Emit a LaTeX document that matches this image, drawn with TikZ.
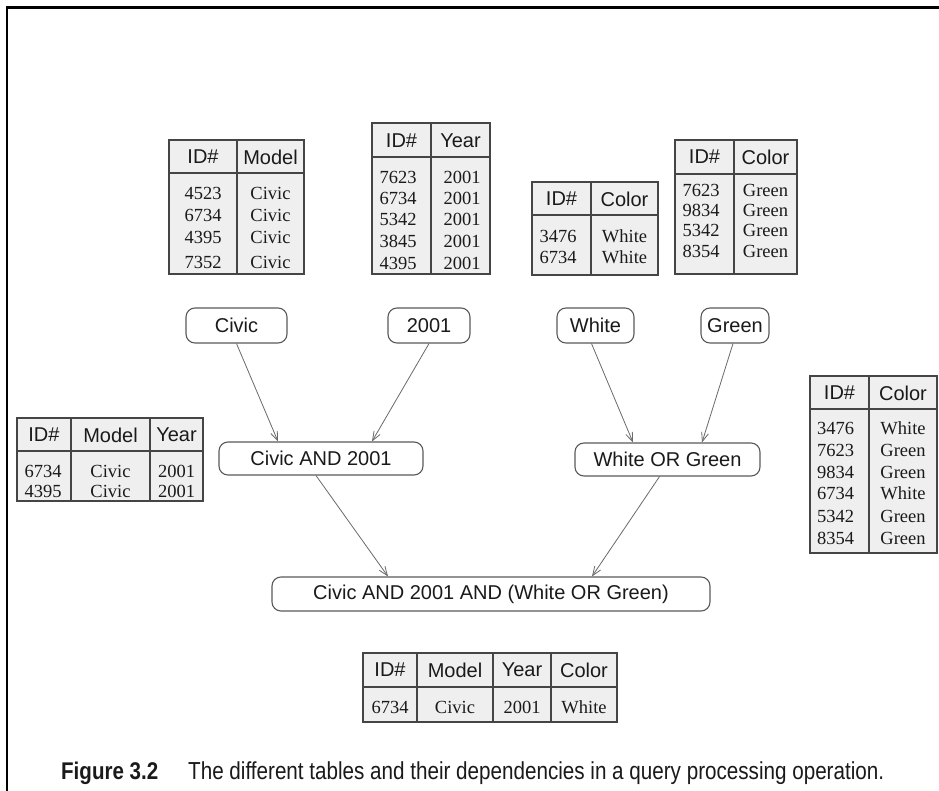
\documentclass[tikz,border=0pt]{standalone}
\usepackage{fontspec}
\setmainfont{Liberation Serif}
\setsansfont{Liberation Sans}
\usetikzlibrary{arrows.meta}
\definecolor{tabgray}{HTML}{EFEFEF}
\definecolor{tabline}{HTML}{454545}
\definecolor{boxline}{HTML}{5A5A5A}
\definecolor{arrcol}{HTML}{6A6A6A}
\definecolor{txt}{HTML}{1A1A1A}
\begin{document}
\begin{tikzpicture}[x=1pt,y=-1pt,
  tabframe/.style={draw=tabline, line width=1.5pt},
  hdrule/.style={draw=tabline, line width=2pt},
  hd/.style={font=\sffamily\fontsize{20}{20}\selectfont, inner sep=0pt, text=txt},
  dt/.style={font=\fontsize{18.5}{18.5}\selectfont, inner sep=0pt, text=txt},
  rbox/.style={draw=boxline, line width=1.1pt, rounded corners=9pt, fill=white,
    font=\sffamily\fontsize{20}{20}\selectfont, inner sep=0pt, text=txt},
  arr/.style={draw=arrcol, line width=0.8pt, -{Straight Barb[length=9pt,width=7pt]}}]
\useasboundingbox (0,0) rectangle (939,791);
\fill[white] (0,0) rectangle (939,791);
% frame
\draw[line width=2.2pt] (7,791) -- (7,7.5) -- (939,7.5);

% ---------- Table 1: ID# / Model
\fill[tabgray] (169,140) rectangle (304,274);
\draw[tabframe] (169,140) rectangle (304,274) (237,140) -- (237,274);
\draw[hdrule] (169,173) -- (304,173);
\node[hd] (t1h1) at (203,157) {ID\#};
\node[hd] (t1h2) at (270.5,157) {Model};
\foreach \i/\id/\v/\y in {1/4523/Civic/193, 2/6734/Civic/215, 3/4395/Civic/237, 4/7352/Civic/262}
  {\node[dt] (t1r\i a) at (203,\y) {\id}; \node[dt] (t1r\i b) at (270.5,\y) {\v};}

% ---------- Table 2: ID# / Year
\fill[tabgray] (372,123) rectangle (490,274);
\draw[tabframe] (372,123) rectangle (490,274) (431,123) -- (431,274);
\draw[hdrule] (372,157) -- (490,157);
\node[hd] (t2h1) at (401.5,141) {ID\#};
\node[hd] (t2h2) at (460.5,141) {Year};
\foreach \i/\id/\v/\y in {1/7623/2001/177, 2/6734/2001/198, 3/5342/2001/219, 4/3845/2001/241, 5/4395/2001/263}
  {\node[dt] (t2r\i a) at (398,\y) {\id}; \node[dt] (t2r\i b) at (462,\y) {\v};}

% ---------- Table 3: ID# / Color (White)
\fill[tabgray] (532,182) rectangle (658,275);
\draw[tabframe] (532,182) rectangle (658,275) (591,182) -- (591,275);
\draw[hdrule] (532,215) -- (658,215);
\node[hd] (t3h1) at (561.5,199) {ID\#};
\node[hd] (t3h2) at (624.5,199) {Color};
\foreach \i/\id/\v/\y in {1/3476/White/236, 2/6734/White/257}
  {\node[dt] (t3r\i a) at (558,\y) {\id}; \node[dt] (t3r\i b) at (624.5,\y) {\v};}

% ---------- Table 4: ID# / Color (Green)
\fill[tabgray] (675,140) rectangle (797,274);
\draw[tabframe] (675,140) rectangle (797,274) (734,140) -- (734,274);
\draw[hdrule] (675,174) -- (797,174);
\node[hd] (t4h1) at (704.5,157) {ID\#};
\node[hd] (t4h2) at (765.5,157) {Color};
\foreach \i/\id/\v/\y in {1/7623/Green/190, 2/9834/Green/210, 3/5342/Green/230, 4/8354/Green/251}
  {\node[dt] (t4r\i a) at (701,\y) {\id}; \node[dt] (t4r\i b) at (765.5,\y) {\v};}

% ---------- Table 5: ID# / Model / Year
\fill[tabgray] (17,418) rectangle (203,501);
\draw[tabframe] (17,418) rectangle (203,501) (71,418) -- (71,501) (150,418) -- (150,501);
\draw[hdrule] (17,451) -- (203,451);
\node[hd] (t5h1) at (44,435) {ID\#};
\node[hd] (t5h2) at (110.5,435) {Model};
\node[hd] (t5h3) at (176.5,435) {Year};
\foreach \i/\id/\y in {1/6734/471, 2/4395/491}
  {\node[dt] (t5r\i a) at (43,\y) {\id}; \node[dt] (t5r\i b) at (110.5,\y) {Civic}; \node[dt] (t5r\i c) at (176.5,\y) {2001};}

% ---------- Table 6: ID# / Color (union)
\fill[tabgray] (810,376) rectangle (937,553);
\draw[tabframe] (810,376) rectangle (937,553) (869,376) -- (869,553);
\draw[hdrule] (810,409) -- (937,409);
\node[hd] (t6h1) at (839.5,393) {ID\#};
\node[hd] (t6h2) at (903,393) {Color};
\foreach \i/\id/\v/\y in {1/3476/White/428, 2/7623/Green/450, 3/9834/Green/472, 4/6734/White/493, 5/5342/Green/516, 6/8354/Green/538}
  {\node[dt] (t6r\i a) at (835.5,\y) {\id}; \node[dt] (t6r\i b) at (903,\y) {\v};}

% ---------- Table 7: result
\fill[tabgray] (363,653) rectangle (617,722);
\draw[tabframe] (363,653) rectangle (617,722) (417,653) -- (417,722) (493,653) -- (493,722) (551,653) -- (551,722);
\draw[hdrule] (363,687) -- (617,687);
\node[hd] (t7h1) at (390,670) {ID\#};
\node[hd] (t7h2) at (455,670) {Model};
\node[hd] (t7h3) at (522,670) {Year};
\node[hd] (t7h4) at (584,670) {Color};
\node[dt] (t7r1a) at (390,707) {6734};
\node[dt] (t7r1b) at (455,707) {Civic};
\node[dt] (t7r1c) at (522,707) {2001};
\node[dt] (t7r1d) at (584,707) {White};

% ---------- query boxes
\node[rbox, minimum width=101pt, minimum height=35pt] (civic) at (236.5,325.5) {Civic};
\node[rbox, minimum width=82pt, minimum height=35pt] (y2001) at (429,325.5) {2001};
\node[rbox, minimum width=77pt, minimum height=35pt] (white) at (595.5,325.5) {White};
\node[rbox, minimum width=68pt, minimum height=35pt] (green) at (735,325.5) {Green};
\node[rbox, minimum width=204pt, minimum height=33pt] (ca) at (321,458.5) {Civic AND 2001};
\node[rbox, minimum width=185pt, minimum height=33pt] (wog) at (667.5,459.5) {White OR Green};
\node[rbox, minimum width=438pt, minimum height=34pt] (final) at (491,594) {Civic AND 2001 AND (White OR Green)};

% ---------- arrows
\draw[arr] (civic.south) -- ([xshift=-43pt]ca.north);
\draw[arr] (y2001.south) -- ([xshift=51pt]ca.north);
\draw[arr] ([xshift=-4pt]white.south) -- ([xshift=-34.5pt]wog.north);
\draw[arr] ([xshift=-2pt]green.south) -- ([xshift=34.5pt]wog.north);
\draw[arr] ([xshift=-5pt]ca.south) -- ([xshift=-103pt]final.north);
\draw[arr] ([xshift=-8pt]wog.south) -- ([xshift=101pt]final.north);

% ---------- caption
\node[anchor=base west, inner sep=0pt, text=txt] (capfig) at (61,779)
  {\resizebox{97pt}{17.5pt}{\sffamily\bfseries Figure 3.2}};
\node[anchor=base west, inner sep=0pt, text=txt] (captxt) at (188,779)
  {\resizebox{696pt}{17.8pt}{\sffamily The different tables and their dependencies in a query processing operation.}};
\end{tikzpicture}
\end{document}
